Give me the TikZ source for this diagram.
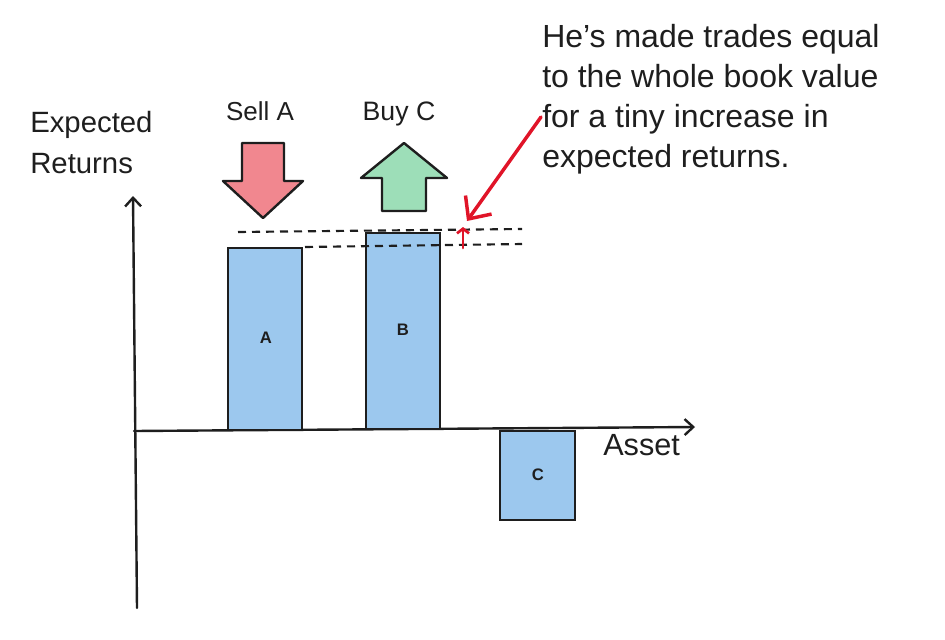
\documentclass[tikz,border=0pt]{standalone}
\usepackage{fontspec}
\setmainfont{Liberation Sans}
\usetikzlibrary{arrows.meta}
\definecolor{barblue}{HTML}{9CC8EE}
\definecolor{sellred}{HTML}{F1878F}
\definecolor{buygreen}{HTML}{9DDEB8}
\definecolor{ink}{HTML}{1E1E1E}
\definecolor{annot}{HTML}{E01428}
\begin{document}
\begin{tikzpicture}[x=0.75pt,y=-0.75pt,
  hand/.style={text=ink, inner sep=0pt},
  bar/.style={draw=ink, fill=barblue, line width=1.8pt},
  barlabel/.style={font=\fontsize{12.5}{14}\selectfont\bfseries, text=ink, inner sep=0pt},
  axisline/.style={draw=ink, line width=1.8pt, line cap=round, -{Straight Barb[length=6.5pt,width=12pt,line width=1.8pt]}},
  bigarrow/.style={draw=ink, line width=1.8pt, line join=round},
  guide/.style={draw=ink, line width=1.6pt, dash pattern=on 6pt off 4.5pt},
  redpen/.style={draw=annot, line width=2.6pt, line cap=round, line join=round}
]
\useasboundingbox (0,0) rectangle (945,639);

% axes
\coordinate (yb) at (137,608);
\coordinate (yt) at (133,196);
\coordinate (xl) at (134,431);
\coordinate (xr) at (695,427);
\draw[axisline] (yb) -- (yt);
\draw[axisline] (xl) -- (xr);

% bars
\draw[bar] (228,248) rectangle (302,430);
\draw[bar] (366,233) rectangle (440,429);
\draw[bar] (500,431) rectangle (575,520);
\node[barlabel] (la) at (266,338) {A};
\node[barlabel] (lb) at (403,330) {B};
\node[barlabel] (lc) at (538,475) {C};

% sell / buy arrows
\draw[bigarrow, fill=sellred] (242,143) -- (284,143) -- (284,181) -- (303,181) -- (263,218) -- (223,181) -- (242,181) -- cycle;
\draw[bigarrow, fill=buygreen] (404,143) -- (447,178) -- (426,178) -- (426,211) -- (382,211) -- (382,178) -- (361,178) -- cycle;

% dashed guides
\coordinate (d1a) at (238,232);
\coordinate (d1b) at (522,229);
\coordinate (d2a) at (305,247);
\coordinate (d2b) at (522,244);
\draw[guide] (d1a) -- (d1b);
\draw[guide] (d2a) -- (d2b);

% texts
\node[hand, font=\fontsize{22}{31}\selectfont, align=left, anchor=north west] (yl) at (30,111) {Expected\\Returns};
\node[hand, font=\fontsize{19.5}{24}\selectfont, anchor=base] (sell) at (260,120) {Sell A};
\node[hand, font=\fontsize{20}{24}\selectfont, anchor=base] (buy) at (399,120) {Buy C};
\node[hand, font=\fontsize{23}{28}\selectfont, anchor=base west] (asset) at (603,455) {Asset};
\node[hand, font=\fontsize{24}{30}\selectfont, align=left, anchor=north west] (note) at (542,24)
  {He's made trades equal\\to the whole book value\\for a tiny increase in\\expected returns.};

% red annotation
\coordinate (rs) at (541,117);
\coordinate (rt) at (467,221);
\draw[redpen, -{Straight Barb[length=13pt,width=24pt,line width=2.6pt]}] (rs) -- (rt);
\coordinate (ms) at (463,248);
\coordinate (mt) at (463,227);
\draw[redpen, line width=2pt, -{Straight Barb[length=3.5pt,width=9pt,line width=2pt]}] (ms) -- (mt);
\end{tikzpicture}
\end{document}
